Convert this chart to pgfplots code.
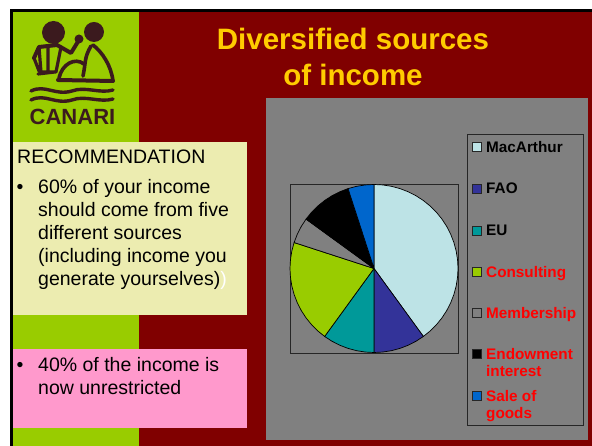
\documentclass[border=0pt]{standalone}
\usepackage{pgfplots}
\pgfplotsset{compat=1.18}
\usepgfplotslibrary{polar}
\usepackage{fontspec}
\setmainfont{Liberation Sans}
\definecolor{bgred}{HTML}{800000}
\definecolor{lime}{HTML}{99CC00}
\definecolor{pale}{HTML}{ECECB0}
\definecolor{pinkbox}{HTML}{FF99CC}
\definecolor{panel}{HTML}{808080}
\definecolor{logo}{HTML}{3B1A1E}
\definecolor{titlecol}{HTML}{FFCC00}
\definecolor{sMac}{HTML}{BDE3E6}
\definecolor{sFao}{HTML}{333399}
\definecolor{sEu}{HTML}{009999}
\definecolor{sCon}{HTML}{99CC00}
\definecolor{sMem}{HTML}{808080}
\definecolor{sEnd}{HTML}{000000}
\definecolor{sSal}{HTML}{0066CC}
\newcommand{\fs}[2]{\fontsize{#1pt}{#2pt}\selectfont}
\begin{document}
\begin{tikzpicture}[x=1pt,y=1pt]
\useasboundingbox (0,0) rectangle (592,446);
\fill[white] (0,0) rectangle (592,446);
\begin{scope}[shift={(0,446)},yscale=-1]
\fill[black] (10,9) rectangle (592,446);
\fill[bgred] (13,12) rectangle (592,446);
\fill[lime] (13,12) rectangle (139,446);
\fill[pale] (13,142) rectangle (247,315);
\fill[pinkbox] (13,349) rectangle (247,428);
\fill[panel] (266,98) rectangle (588,440);
% logo
\begin{scope}[logo,line cap=round,line join=round]
\fill (53.5,32.5) circle (11.5);
\fill (94,32) circle (10);
\draw[line width=4pt] (34,58) -- (39,47) -- (57,45) -- (71,53) -- (79,40);
\fill (79,39) circle (4.5);
\draw[line width=3.2pt] (34,58) -- (39,71) (39,47) -- (41,72) -- (56,72) -- (61,47) (48,47) -- (48,71) (38,74) -- (55,72);
\draw[line width=3.6pt] (91,46) .. controls (84,58) and (86,62) .. (83,76);
\draw[line width=3.6pt] (93,45) .. controls (102,52) and (111,65) .. (113,81);
\draw[line width=4pt] (58,80) -- (113,81);
\draw[line width=3.6pt] (59,78) .. controls (62,64) and (75,57) .. (84,64);
\draw[line width=3.4pt] (31,91) .. controls (45,84) and (55,96) .. (72,91) .. controls (85,86) and (100,94) .. (113,90);
\draw[line width=3.4pt] (31,100) .. controls (45,93) and (55,105) .. (72,100) .. controls (85,95) and (100,103) .. (113,99);
\end{scope}
\node[anchor=base,text=logo,inner sep=0pt] at (72.5,125) {\fs{22}{24}\bfseries CANARI};
% title
\node[anchor=base,text=titlecol,inner sep=0pt] at (353,50) {\fs{29.5}{34}\bfseries Diversified sources};
\node[anchor=base,text=titlecol,inner sep=0pt] at (353,86) {\fs{29.5}{34}\bfseries of income};
% left texts
\foreach \y/\t in {164/RECOMMENDATION}
  \node[anchor=base west,inner sep=0pt] at (17,\y) {\fs{19.5}{23}\t};
\node[anchor=base west,inner sep=0pt] at (16.5,194) {\fs{19.5}{23}•};
\foreach \y/\t in {194/60\% of your income,217/should come from five,240/different sources,263/(including income you}
  \node[anchor=base west,inner sep=0pt] at (38,\y) {\fs{19.5}{23}\t};
\node[anchor=base west,inner sep=0pt] at (38,286) {\fs{19.5}{23}generate yourselves)\textcolor{white}{)}};
\node[anchor=base west,inner sep=0pt] at (16.5,372) {\fs{19.5}{23}•};
\node[anchor=base west,inner sep=0pt] at (38,372) {\fs{19.5}{23}40\% of the income is};
\node[anchor=base west,inner sep=0pt] at (38,395) {\fs{19.5}{23}now unrestricted};
% pie frame
\draw[black!85,line width=0.9pt] (290,184) rectangle (458,353);
% legend
\draw[black!85,line width=0.9pt] (467,134.5) rectangle (583,425);
\foreach \y/\c in {147/sMac,189/sFao,231/sEu,272/sCon,313/sMem,354/sEnd,396/sSal}
  \draw[fill=\c,draw=black!85,line width=0.9pt] (472.3,\y-4.5) rectangle (481,\y+4.5);
\foreach \y/\t in {153/MacArthur,194/FAO,236/EU}
  \node[anchor=base west,inner sep=0pt] at (486,\y) {\fs{15.3}{18}\bfseries \t};
\foreach \y/\t in {278/Consulting,319/Membership,360/Endowment,377/interest,402/Sale of,418.5/goods}
  \node[anchor=base west,inner sep=0pt,text=red] at (486,\y) {\fs{15.3}{18}\bfseries \t};
\end{scope}
\begin{polaraxis}[
  at={(374pt,177.5pt)},anchor=origin,
  scale only axis,width=168pt,height=168pt,
  xmin=0,xmax=360,ymin=0,ymax=84,
  hide axis,clip=false,
  every axis plot/.append style={mark=none,draw=black,line width=0.7pt,line join=round},
]
% MacArthur 40
\addplot[fill=sMac] coordinates {(0,0)(90,84)(84,84)(78,84)(72,84)(66,84)(60,84)(54,84)(48,84)(42,84)(36,84)(30,84)(24,84)(18,84)(12,84)(6,84)(0,84)(-6,84)(-12,84)(-18,84)(-24,84)(-30,84)(-36,84)(-42,84)(-48,84)(-54,84)(0,0)};
% FAO 10
\addplot[fill=sFao] coordinates {(0,0)(-54,84)(-60,84)(-66,84)(-72,84)(-78,84)(-84,84)(-90,84)(0,0)};
% EU 10
\addplot[fill=sEu] coordinates {(0,0)(-90,84)(-96,84)(-102,84)(-108,84)(-114,84)(-120,84)(-126,84)(0,0)};
% Consulting 20
\addplot[fill=sCon] coordinates {(0,0)(-126,84)(-132,84)(-138,84)(-144,84)(-150,84)(-156,84)(-162,84)(-168,84)(-174,84)(-180,84)(-186,84)(-192,84)(-198,84)(0,0)};
% Membership 5
\addplot[fill=sMem] coordinates {(0,0)(-198,84)(-204,84)(-210,84)(-216,84)(0,0)};
% Endowment 10
\addplot[fill=sEnd] coordinates {(0,0)(-216,84)(-222,84)(-228,84)(-234,84)(-240,84)(-246,84)(-252,84)(0,0)};
% Sale of goods 5
\addplot[fill=sSal] coordinates {(0,0)(-252,84)(-258,84)(-264,84)(-270,84)(0,0)};
\end{polaraxis}
\end{tikzpicture}
\end{document}
